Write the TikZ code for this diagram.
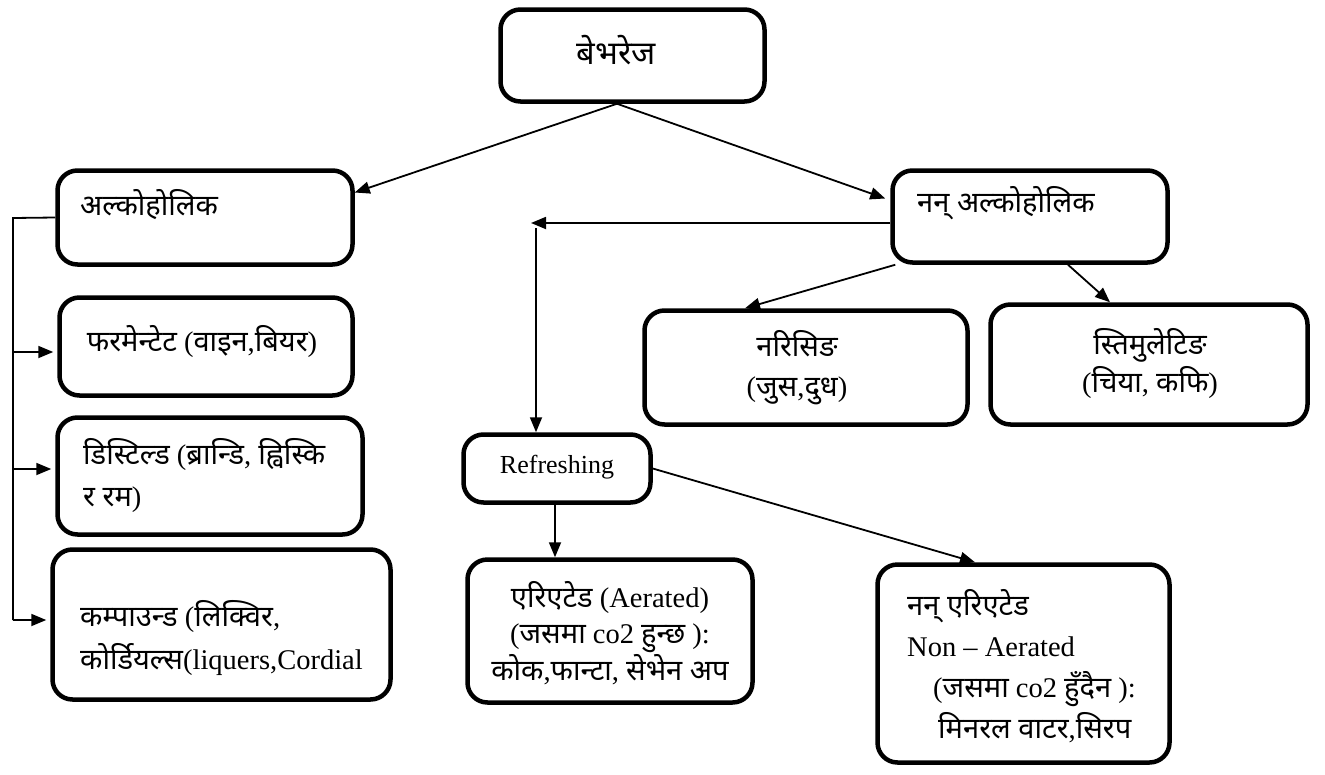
\documentclass[tikz,border=0pt]{standalone}
\usepackage{fontspec}
\setmainfont{Liberation Serif}
\newfontfamily\devfont[Script=Devanagari,Scale=1.02]{Noto Sans}
\usetikzlibrary{arrows.meta}
\newcommand{\dv}[1]{{\devfont #1}}

\tikzset{
  box/.style={draw, line width=4.5pt, rounded corners=20pt, inner sep=0pt},
  txt/.style={font=\fontsize{28.5}{40}\selectfont, inner sep=0pt},
  link/.style={line width=1.8pt, -{Triangle[length=15pt,width=12pt]}},
  plain/.style={line width=1.8pt}
}

\begin{document}
\begin{tikzpicture}[x=1pt,y=-1pt]
    \useasboundingbox (0,0) rectangle (1325,774);

    % boxes
    \node[box, minimum width=264pt, minimum height=92pt] (bev) at (632.5,55.5) {};
    \node[box, minimum width=295pt, minimum height=94pt] (alc) at (205,217.5) {};
    \node[box, minimum width=275pt, minimum height=92pt] (nonalc) at (1030,216.5) {};
    \node[box, minimum width=293pt, minimum height=98pt] (ferm) at (206,346.5) {};
    \node[box, minimum width=305pt, minimum height=117pt] (dist) at (210,476) {};
    \node[box, minimum width=338pt, minimum height=150pt] (comp) at (221.5,624.5) {};
    \node[box, minimum width=323pt, minimum height=114pt] (nour) at (806,367.5) {};
    \node[box, minimum width=317pt, minimum height=120pt] (stim) at (1149,364.5) {};
    \node[box, minimum width=187pt, minimum height=68pt] (refr) at (557,468.5) {};
    \node[box, minimum width=285pt, minimum height=143pt] (aer) at (610,631) {};
    \node[box, minimum width=292pt, minimum height=198pt] (nonaer) at (1023.5,663.5) {};

    % texts
    \node[txt, font=\fontsize{32}{40}\selectfont] (bev-t) at (616,50) {\dv{बेभरेज}};
    \node[txt, anchor=west] (alc-t) at (80,205) {\dv{अल्कोहोलिक}};
    \node[txt, anchor=west] (nonalc-t) at (917,203) {\dv{नन् अल्कोहोलिक}};
    \node[txt] (ferm-t) at (202,342) {\dv{फरमेन्टेट} (\dv{वाइन},\dv{बियर})};
    \node[txt, anchor=west, align=left, font=\fontsize{28.5}{42}\selectfont] (dist-t) at (83,476)
        {\dv{डिस्टिल्ड} (\dv{ब्रान्डि}, \dv{ह्विस्कि}\\\dv{र रम})};
    \node[txt, anchor=west, align=left, font=\fontsize{28.5}{43}\selectfont] (comp-t) at (80,638)
        {\dv{कम्पाउन्ड} (\dv{लिक्विर},\\\dv{कोर्डियल्स}(liquers,Cordial};
    \node[txt, align=center] (nour-t) at (797,368) {\dv{नरिसिङ}\\(\dv{जुस},\dv{दुध})};
    \node[txt, align=center, font=\fontsize{28.5}{38}\selectfont] (stim-t) at (1150,364)
        {\dv{स्तिमुलेटिङ}\\(\dv{चिया}, \dv{कफि})};
    \node[txt, font=\fontsize{26}{30}\selectfont] (refr-t) at (557,467) {Refreshing};
    \node[txt, align=center, font=\fontsize{28.5}{36.5}\selectfont] (aer-t) at (610,633)
        {\dv{एरिएटेड} (Aerated)\\(\dv{जसमा} co2 \dv{हुन्छ} ):\\\dv{कोक},\dv{फान्टा}, \dv{सेभेन अप}};
    \node[txt, anchor=west, align=left, font=\fontsize{28.5}{41}\selectfont] (nonaer-t) at (907,666)
        {\dv{नन् एरिएटेड}\\Non -- Aerated\\\hspace*{26pt}(\dv{जसमा} co2 \dv{हुँदैन} ):\\\hspace*{31pt}\dv{मिनरल वाटर},\dv{सिरप}};

    % connectors
    \draw[link] ([xshift=-15.5pt]bev.south) -- ([yshift=25pt]alc.east);
    \draw[link] ([xshift=-15.5pt]bev.south) -- ([xshift=-5pt,yshift=18pt]nonalc.west);
    \coordinate (turn) at (531,223);
    \coordinate (drop) at (536,228);
    \draw[link] ([yshift=-6.5pt]nonalc.west) -- (turn);
    \draw[link] (drop) -- ([xshift=-21pt]refr.north);
    \draw[link] ([xshift=5pt]nonalc.south west) -- ([xshift=-61pt]nour.north);
    \draw[link] ([xshift=38pt]nonalc.south) -- ([xshift=-39pt]stim.north);
    \draw[link] (refr.east) -- ([xshift=-48.5pt]nonaer.north);
    \draw[link] ([xshift=-2pt]refr.south) -- ([xshift=-55pt]aer.north);

    % bracket on the left
    \coordinate (spine) at (13,218);
    \draw[plain] (alc.west) -- (spine) -- (13,620);
    \foreach \b/\y in {ferm/352, dist/469, comp/620}
        \draw[link] (13,\y) -- ([xshift=-4pt]\b.west |- 0,\y);
\end{tikzpicture}
\end{document}
